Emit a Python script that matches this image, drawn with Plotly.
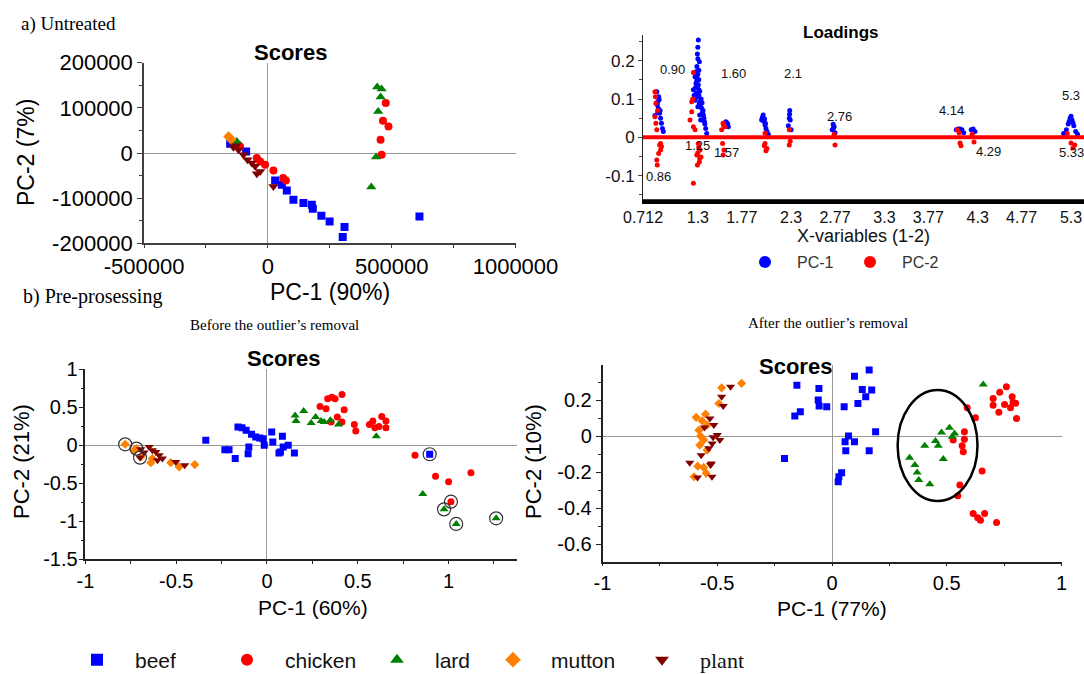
import plotly.graph_objects as go

W, H = 1084, 674

# ---------------- DATA ----------------
categories = ["beef", "chicken", "lard", "mutton", "plant"]

# a) Untreated scores (PC-1 90%, PC-2 7%)
a_beef_x = [-152100, -87600, 29500, 56500, 76700, 103300, 143700, 177600, 181600, 216300, 249400, 309500, 302300, 612200]
a_beef_y = [20600, 3500, -60700, -70200, -82800, -103400, -110700, -114500, -123400, -138900, -151500, -163900, -186000, -140400]
a_chicken_x = [-111800, -120000, -44400, -31100, -10900, 22600, 61700, 73000, 476200, 464900, 487100, 455200, 459300]
a_chicken_y = [14600, 18000, -11100, -18600, -25900, -38500, -55400, -60700, 110700, 71500, 58900, 29500, -3800]
a_lard_x = [-145300, -125100, 441500, 459300, 455200, 445500, 437000, 417700]
a_lard_y = [29500, 25700, 146200, 141700, 124000, 92100, -8900, -75300]
a_mutton_x = [-159000, -153400, -148000]
a_mutton_y = [36800, 33100, 30000]
a_plant_x = [-138800, -128000, -118600, -98500, -82300, -64600, -51300, -31100, -44400, 22600]
a_plant_y = [12800, 16000, 7300, -3700, -14800, -22100, -29600, -40700, -45800, -74000]
a_xticks = [-500000, 0, 500000, 1000000]
a_xticktext = ["-500000", "0", "500000", "1000000"]
a_yticks = [-200000, -100000, 0, 100000, 200000]
a_yticktext = ["-200000", "-100000", "0", "100000", "200000"]

# Loadings (X-variables, ppm)
pc1_x = [0.84, 0.86, 0.87, 0.876, 0.88, 0.89, 0.90, 0.91, 0.92, 0.93, 0.865, 0.885, 0.87, 0.895,
         1.252, 1.27, 1.27, 1.28, 1.28, 1.29, 1.295, 1.30, 1.305, 1.305, 1.31, 1.316, 1.32, 1.323,
         1.33, 1.341, 1.35, 1.359, 1.37, 1.384, 1.395, 1.29, 1.30, 1.31, 1.30, 1.285, 1.315, 1.30,
         1.275, 1.29, 1.31, 1.32, 1.335, 1.345, 1.355, 1.365, 1.375, 1.30, 1.31, 1.26, 1.33,
         1.60, 1.62, 1.627, 1.61,
         1.984, 1.99, 2.00, 2.01, 2.02, 2.03, 2.04, 2.055, 1.995, 2.015, 2.025,
         2.27, 2.28, 2.285, 2.29, 2.30, 2.283,
         2.74, 2.75, 2.76, 2.77, 2.755,
         4.07, 4.09, 4.11, 4.13, 4.15,
         4.23, 4.25, 4.27,
         5.22, 5.25, 5.27, 5.29, 5.30, 5.31, 5.33, 5.35, 5.37, 5.28, 5.32]
pc1_y = [0.057, 0.119, 0.093, 0.076, 0.106, 0.063, 0.05, 0.037, 0.023, 0.015, 0.085, 0.098, 0.066, 0.07,
         0.124, 0.158, 0.097, 0.171, 0.141, 0.149, 0.2175, 0.08, 0.254, 0.137, 0.110, 0.197, 0.058, 0.093,
         0.045, 0.076, 0.065, 0.058, 0.041, 0.023, 0.010, 0.185, 0.165, 0.125, 0.105, 0.115, 0.088, 0.205,
         0.13, 0.16, 0.175, 0.12, 0.1, 0.09, 0.07, 0.05, 0.035, 0.235, 0.15, 0.11, 0.085,
         0.041, 0.035, 0.028, 0.038,
         0.045, 0.05, 0.058, 0.041, 0.032, 0.023, 0.015, 0.008, 0.053, 0.048, 0.036,
         0.03, 0.05, 0.07, 0.045, 0.02, 0.06,
         0.02, 0.034, 0.028, 0.012, 0.025,
         0.02, 0.022, 0.022, 0.02, 0.012,
         0.02, 0.022, 0.015,
         0.01, 0.02, 0.035, 0.05, 0.055, 0.045, 0.03, 0.015, 0.008, 0.042, 0.038]
pc2_x = [0.84, 0.845, 0.85, 0.84, 0.85, 0.86, 0.90, 0.91, 0.90, 0.88, 0.86, 0.865, 0.87, 0.89,
         1.252, 1.234, 1.234, 1.216, 1.252, 1.27, 1.305, 1.323, 1.288, 1.316, 1.295, 1.252, 1.334,
         1.245, 1.31, 1.30, 1.32,
         1.57, 1.59, 1.555, 1.565, 1.58, 1.57, 1.575,
         2.02, 2.02, 2.04, 2.03, 2.01,
         2.28, 2.29, 2.28,
         2.76, 2.77,
         4.08, 4.10, 4.11, 4.12,
         4.24, 4.26,
         5.26, 5.30, 5.32, 5.34]
pc2_y = [0.119, 0.106, 0.089, 0.054, 0.037, 0.02, -0.016, -0.024, -0.033, -0.042, -0.059, -0.072, 0.07, -0.02,
         0.169, 0.093, 0.067, 0.045, 0.028, 0.02, -0.016, -0.033, -0.046, -0.064, -0.072, -0.12, -0.051,
         0.1, -0.025, -0.04, -0.055,
         0.037, 0.028, 0.02, -0.016, -0.033, -0.046, 0.032,
         0.011, -0.016, -0.029, -0.035, -0.022,
         0.02, -0.01, -0.02,
         0.008, -0.02,
         0.02, 0.012, -0.015, -0.022,
         0.008, -0.012,
         0.01, -0.015, -0.028, -0.02]
peak_labels = ["0.90", "1.60", "2.1", "2.76", "4.14", "5.3", "1.25", "1.57", "4.29", "5.33", "0.86"]
peak_label_x = [1.023, 1.687, 2.32, 2.823, 4.024, 5.30, 1.30, 1.612, 4.42, 5.30, 0.873]
peak_label_y = [0.178, 0.167, 0.167, 0.054, 0.071, 0.11, -0.022, -0.040, -0.036, -0.040, -0.103]
load_tickvals = [0.712, 1.3, 1.77, 2.3, 2.77, 3.3, 3.77, 4.3, 4.77, 5.3]
load_ticktext = ["0.712", "1.3", "1.77", "2.3", "2.77", "3.3", "3.77", "4.3", "4.77", "5.3"]
load_yticks = [-0.1, 0, 0.1, 0.2]
load_yticktext = ["-0.1", "0", "0.1", "0.2"]

# b) Before the outlier's removal (PC-1 60%, PC-2 21%)
b_beef_x = [-0.337, -0.232, -0.209, -0.175, -0.16, -0.138, -0.115, -0.1, -0.104, -0.085, -0.062, -0.04, -0.021,
            -0.015, 0.026, 0.032, 0.066, 0.085, 0.089, 0.117, 0.151, 0.074, 0.896]
b_beef_y = [0.066, -0.057, -0.057, -0.175, 0.24, 0.23, 0.197, -0.022, -0.11, 0.144, 0.109, 0.096, 0.087,
            0.0, 0.175, 0.044, -0.1, 0.118, -0.022, 0.0, -0.1, -0.087, -0.118]
b_chicken_x = [0.334, 0.357, 0.375, 0.413, 0.292, 0.325, 0.425, 0.387, 0.413, 0.353, 0.481, 0.489, 0.564,
               0.583, 0.632, 0.655, 0.655, 0.617, 0.594, 0.815, 0.928, 1.0, 1.123, 1.013]
b_chicken_y = [0.611, 0.633, 0.611, 0.668, 0.511, 0.48, 0.467, 0.371, 0.306, 0.306, 0.275, 0.188, 0.275,
               0.319, 0.38, 0.319, 0.231, 0.249, 0.231, -0.131, -0.406, -0.48, -0.362, -0.742]
b_lard_x = [0.155, 0.202, 0.16, 0.243, 0.268, 0.298, 0.315, 0.349, 0.394, 0.602, 0.858, 0.975, 1.042, 1.262]
b_lard_y = [0.393, 0.45, 0.319, 0.293, 0.371, 0.319, 0.306, 0.328, 0.275, 0.118, -0.642, -0.843, -1.035, -0.961]
b_mutton_x = [-0.781, -0.732, -0.695, -0.631, -0.64, -0.484, -0.398, -0.53, -0.719]
b_mutton_y = [0.013, -0.066, -0.154, -0.175, -0.228, -0.285, -0.254, -0.228, -0.044]
b_plant_x = [-0.649, -0.631, -0.594, -0.576, -0.603, -0.502, -0.453, -0.695, -0.677, -0.612, -0.699]
b_plant_y = [-0.022, -0.066, -0.132, -0.175, -0.197, -0.22, -0.263, -0.053, -0.096, -0.088, -0.162]
b_outlier_x = [-0.781, -0.719, -0.699, 0.896, 1.013, 0.975, 1.042, 1.262]
b_outlier_y = [0.013, -0.044, -0.162, -0.118, -0.742, -0.843, -1.035, -0.961]
b_xticks = [-1, -0.5, 0, 0.5, 1]
b_xticktext = ["-1", "-0.5", "0", "0.5", "1"]
b_yticks = [-1.5, -1, -0.5, 0, 0.5, 1]
b_yticktext = ["-1.5", "-1", "-0.5", "0", "0.5", "1"]

# b) After the outlier's removal (PC-1 77%, PC-2 10%)
c_beef_x = [-0.153, -0.162, -0.138, -0.207, -0.057, -0.06, -0.056, -0.023, 0.053, 0.098, 0.162, 0.132, 0.173,
            0.147, 0.113, 0.072, 0.057, 0.098, 0.06, 0.162, 0.19, 0.042, 0.03, 0.027]
c_beef_y = [0.283, 0.111, 0.135, -0.124, 0.265, 0.2, 0.167, 0.163, 0.163, 0.333, 0.367, 0.259, 0.256,
            0.219, 0.181, 0.0, -0.031, -0.031, -0.081, -0.081, 0.024, -0.204, -0.226, -0.254]
c_chicken_x = [0.589, 0.625, 0.577, 0.577, 0.528, 0.567, 0.572, 0.654, 0.557, 0.548, 0.615, 0.635, 0.647,
               0.665, 0.717, 0.702, 0.702, 0.727, 0.731, 0.76, 0.752, 0.785, 0.789, 0.778, 0.8, 0.804]
c_chicken_y = [0.157, 0.102, 0.024, -0.017, -0.022, -0.054, -0.087, -0.194, -0.272, -0.331, -0.43, -0.454, -0.467,
               -0.43, -0.48, 0.172, 0.209, 0.132, 0.243, 0.274, 0.176, 0.218, 0.187, 0.157, 0.182, 0.098]
c_lard_x = [0.659, 0.477, 0.512, 0.534, 0.451, 0.463, 0.404, 0.485, 0.338, 0.361, 0.371, 0.378, 0.426, 0.524]
c_lard_y = [0.287, 0.02, 0.046, 0.015, -0.028, -0.054, -0.054, -0.128, -0.121, -0.161, -0.202, -0.244, -0.268, -0.004]
c_mutton_x = [-0.394, -0.481, -0.493, -0.592, -0.551, -0.566, -0.544, -0.58, -0.573, -0.559, -0.576, -0.544,
              -0.585, -0.559, -0.601, -0.548]
c_mutton_y = [0.293, 0.268, 0.181, 0.104, 0.122, 0.085, 0.061, 0.033, 0.0, -0.022, -0.05, -0.078,
              -0.167, -0.174, -0.226, -0.207]
c_plant_x = [-0.442, -0.481, -0.474, -0.532, -0.515, -0.556, -0.5, -0.518, -0.489, -0.522, -0.537, -0.62,
             -0.57, -0.529, -0.586, -0.523, -0.526]
c_plant_y = [0.274, 0.218, 0.167, 0.098, 0.061, 0.048, 0.006, -0.007, -0.022, -0.041, -0.068, -0.148,
             -0.106, -0.161, -0.23, -0.226, -0.152]
c_xticks = [-1, -0.5, 0, 0.5, 1]
c_xticktext = ["-1", "-0.5", "0", "0.5", "1"]
c_yticks = [-0.6, -0.4, -0.2, 0, 0.2]
c_yticktext = ["-0.6", "-0.4", "-0.2", "0", "0.2"]
ellipse_x = [0.286, 0.634]
ellipse_y = [-0.361, 0.256]

# ---------------- STYLE ----------------
colors = {"beef": "#0000FF", "chicken": "#FF0000", "lard": "#008000", "mutton": "#FF8000", "plant": "#800000"}
symbols = {"beef": "square", "chicken": "circle", "lard": "triangle-up", "mutton": "diamond", "plant": "triangle-down"}
SANS = "Liberation Sans, Arial, sans-serif"
SERIF = "Liberation Serif, Times New Roman, serif"


def xdom(a, b):
    return [a / W, b / W]


def ydom(top, bottom):
    return [1 - bottom / H, 1 - top / H]


def px(x):
    return x / W


def py(y):
    return 1 - y / H


fig = go.Figure()

data_a = {"beef": (a_beef_x, a_beef_y), "chicken": (a_chicken_x, a_chicken_y), "lard": (a_lard_x, a_lard_y),
          "mutton": (a_mutton_x, a_mutton_y), "plant": (a_plant_x, a_plant_y)}
data_b = {"beef": (b_beef_x, b_beef_y), "chicken": (b_chicken_x, b_chicken_y), "lard": (b_lard_x, b_lard_y),
          "mutton": (b_mutton_x, b_mutton_y), "plant": (b_plant_x, b_plant_y)}
data_c = {"beef": (c_beef_x, c_beef_y), "chicken": (c_chicken_x, c_chicken_y), "lard": (c_lard_x, c_lard_y),
          "mutton": (c_mutton_x, c_mutton_y), "plant": (c_plant_x, c_plant_y)}

size_a = {"beef": 8, "chicken": 8, "lard": 9, "mutton": 8, "plant": 9}
size_b = {"beef": 7, "chicken": 7, "lard": 8, "mutton": 7, "plant": 8}

for cat in categories:
    fig.add_trace(go.Scatter(x=data_a[cat][0], y=data_a[cat][1], mode="markers", xaxis="x", yaxis="y",
                             marker=dict(symbol=symbols[cat], color=colors[cat], size=size_a[cat]),
                             showlegend=False, name=cat))

fig.add_trace(go.Scatter(x=pc1_x, y=pc1_y, mode="markers", xaxis="x2", yaxis="y2", name="PC-1",
                         marker=dict(color="#0000FF", size=5), legend="legend6"))
fig.add_trace(go.Scatter(x=pc2_x, y=pc2_y, mode="markers", xaxis="x2", yaxis="y2", name="PC-2",
                         marker=dict(color="#FF0000", size=5), legend="legend7"))

legend_ids = {"beef": "legend", "chicken": "legend2", "lard": "legend3", "mutton": "legend4", "plant": "legend5"}
for cat in categories:
    fig.add_trace(go.Scatter(x=data_b[cat][0], y=data_b[cat][1], mode="markers", xaxis="x3", yaxis="y3",
                             marker=dict(symbol=symbols[cat], color=colors[cat], size=size_b[cat]),
                             name=cat, legend=legend_ids[cat], showlegend=True))
fig.add_trace(go.Scatter(x=b_outlier_x, y=b_outlier_y, mode="markers", xaxis="x3", yaxis="y3",
                         marker=dict(symbol="circle-open", color="#333333", size=13, line=dict(width=1.2)),
                         showlegend=False))
for cat in categories:
    fig.add_trace(go.Scatter(x=data_c[cat][0], y=data_c[cat][1], mode="markers", xaxis="x4", yaxis="y4",
                             marker=dict(symbol=symbols[cat], color=colors[cat], size=size_b[cat]),
                             showlegend=False, name=cat))

axis_common = dict(showgrid=False, showline=True, ticks="outside", mirror=False, automargin=False,
                   zeroline=True, zerolinecolor="#999999", zerolinewidth=1, tickmode="array")

layout = dict(
    template="none",
    width=W, height=H, margin=dict(l=0, r=0, t=0, b=0, pad=0, autoexpand=False),
    paper_bgcolor="white", plot_bgcolor="white",
    font=dict(family=SANS, color="black"),
    xaxis=dict(domain=xdom(144, 515.5), range=[-500000, 1000000], anchor="y",
               tickvals=a_xticks, ticktext=a_xticktext,
               minor=dict(dtick=250000, ticks="outside", ticklen=3, tickcolor="#404040"),
               linecolor="#404040", linewidth=1.5, tickcolor="#404040", ticklen=3,
               tickfont=dict(size=22, family=SANS), **axis_common),
    yaxis=dict(domain=ydom(62.7, 243.3), range=[-200000, 200000], anchor="x",
               tickvals=a_yticks, ticktext=a_yticktext,
               minor=dict(dtick=50000, ticks="outside", ticklen=3, tickcolor="#404040"),
               linecolor="#404040", linewidth=1.5, tickcolor="#404040", ticklen=5,
               tickfont=dict(size=22, family=SANS), **axis_common),
    xaxis2=dict(domain=xdom(643, 1084), range=[0.712, 5.439], anchor="y2", tickmode="array",
                tickvals=load_tickvals, ticktext=load_ticktext, showgrid=False, zeroline=False,
                showline=True, linecolor="black", linewidth=3, ticks="", automargin=False,
                tickfont=dict(size=16, family=SANS, color="#111111")),
    yaxis2=dict(domain=ydom(35, 201), range=[-0.166, 0.267], anchor="x2", tickmode="array",
                tickvals=load_yticks, ticktext=load_yticktext, showgrid=False, automargin=False,
                zeroline=False, showline=True, linecolor="#222222", linewidth=1, ticks="outside",
                ticklen=4, tickcolor="#444444",
                minor=dict(dtick=0.05, ticks="outside", ticklen=3, tickcolor="#444444"),
                tickfont=dict(size=17, family=SANS, color="#111111")),
    xaxis3=dict(domain=xdom(85.4, 516.5), range=[-1, 1.374], anchor="y3",
                tickvals=b_xticks, ticktext=b_xticktext,
                minor=dict(dtick=0.25, ticks="outside", ticklen=3, tickcolor="#222222"),
                linecolor="#222222", linewidth=1.5, tickcolor="#222222", ticklen=3,
                tickfont=dict(size=20, family=SANS), **axis_common),
    yaxis3=dict(domain=ydom(369.3, 559.3), range=[-1.5, 1], anchor="x3",
                tickvals=b_yticks, ticktext=b_yticktext, ticklabelstandoff=-3,
                minor=dict(dtick=0.25, ticks="outside", ticklen=3, tickcolor="#222222"),
                linecolor="#222222", linewidth=1.5, tickcolor="#222222", ticklen=5,
                tickfont=dict(size=20, family=SANS), **axis_common),
    xaxis4=dict(domain=xdom(602.5, 1061.5), range=[-1, 1], anchor="y4",
                tickvals=c_xticks, ticktext=c_xticktext,
                minor=dict(dtick=0.25, ticks="outside", ticklen=3, tickcolor="#222222"),
                linecolor="#222222", linewidth=1.5, tickcolor="#222222", ticklen=3,
                tickfont=dict(size=20, family=SANS), **axis_common),
    yaxis4=dict(domain=ydom(365, 561.7), range=[-0.698, 0.395], anchor="x4",
                tickvals=c_yticks, ticktext=c_yticktext,
                minor=dict(dtick=0.1, ticks="outside", ticklen=3, tickcolor="#222222"),
                linecolor="#222222", linewidth=1.5, tickcolor="#222222", ticklen=5,
                tickfont=dict(size=20, family=SANS), **axis_common),
)

# legends (kept inside the paper so they never push the margins)
legend_pos = {"legend": 59, "legend2": 209, "legend3": 359, "legend4": 475, "legend5": 624}
for lid, xpos in legend_pos.items():
    fam = SERIF if lid == "legend5" else SANS
    size = 22 if lid == "legend5" else 21
    layout[lid] = dict(x=px(xpos), y=py(660), xanchor="left", yanchor="middle", orientation="h",
                       bgcolor="rgba(0,0,0,0)", itemsizing="constant", itemwidth=66,
                       borderwidth=0, tracegroupgap=0,
                       font=dict(family=fam, size=size, color="#111111"))
for lid, xpos in {"legend6": 733, "legend7": 838}.items():
    layout[lid] = dict(x=px(xpos), y=py(262), xanchor="left", yanchor="middle", orientation="h",
                       bgcolor="rgba(0,0,0,0)", itemsizing="constant", itemwidth=54, borderwidth=0,
                       font=dict(family=SANS, size=16, color="#333333"))

fig.update_layout(**layout)

# shapes: thick bottom frame + red baseline in loadings, and the ellipse
fig.add_shape(type="line", xref="x2 domain", yref="y2 domain", x0=0, x1=1, y0=0, y1=0,
              line=dict(color="black", width=3.5), layer="above")
fig.add_shape(type="line", xref="x2 domain", yref="y2", x0=0, x1=1, y0=0, y1=0,
              line=dict(color="#FF0000", width=4), layer="above")
fig.add_shape(type="circle", xref="x4", yref="y4", x0=ellipse_x[0], x1=ellipse_x[1],
              y0=ellipse_y[0], y1=ellipse_y[1], line=dict(color="black", width=2.5))

ann = []


def text(t, x, y, size, family=SANS, bold=False, angle=0, color="black", xanchor="center"):
    ann.append(dict(text=("<b>%s</b>" % t) if bold else t, x=px(x), y=py(y), xref="paper", yref="paper",
                    showarrow=False, font=dict(size=size, family=family, color=color), textangle=angle,
                    xanchor=xanchor, yanchor="middle"))


text("a) Untreated", 19, 24, 19, family=SERIF, xanchor="left")
text("Scores", 290, 52, 22, bold=True)
text("PC-1 (90%)", 330, 292, 23)
text("PC-2 (7%)", 26, 153, 23, angle=-90)
text("Loadings", 841, 33, 17, bold=True)
text("X-variables (1-2)", 863, 236, 18, color="#111111")
text("b) Pre-prosessing", 21, 296, 20, family=SERIF, xanchor="left")
text("Before the outlier\u2019s removal", 274.5, 325, 15, family=SERIF)
text("After the outlier\u2019s removal", 828, 323, 15, family=SERIF)
text("Scores", 283, 358, 22, bold=True)
text("PC-1 (60%)", 312.5, 607, 21)
text("PC-2 (21%)", 21, 462, 22, angle=-90)
text("Scores", 795, 366, 22, bold=True)
text("PC-1 (77%)", 832, 608, 21)
text("PC-2 (10%)", 533, 462, 22, angle=-90)

for t, xv, yv in zip(peak_labels, peak_label_x, peak_label_y):
    ann.append(dict(text=t, x=xv, y=yv, xref="x2", yref="y2", showarrow=False,
                    font=dict(size=13, family=SANS, color="#111111")))

fig.update_layout(annotations=ann)
fig.write_html("out.html")
